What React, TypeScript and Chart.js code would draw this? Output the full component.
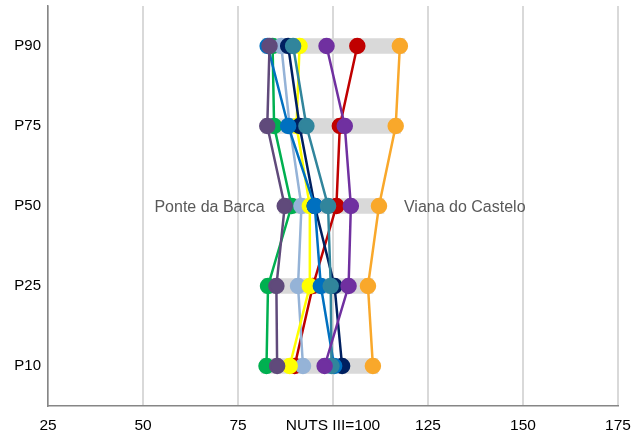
import React, { useEffect, useRef } from "react";
import { Chart, registerables } from "chart.js";

Chart.register(...registerables);

const categories = ["P90", "P75", "P50", "P25", "P10"];
const xTickValues = [25, 50, 75, 100, 125, 150, 175];
const xTickLabels = ["25", "50", "75", "NUTS III=100", "125", "150", "175"];

// grey range band per percentile (low / high)
const rangeLow = [81.5, 81.4, 85.9, 81.6, 81.2];
const rangeHigh = [118.9, 117.8, 113.4, 110.5, 111.8];

const vianaDoCastelo = [117.6, 116.5, 112.1, 109.2, 110.5];
const vilaNovaDeCerveira = [98.3, 103.1, 104.7, 104.1, 97.8];
const ponteDaBarca = [83.3, 82.7, 87.3, 85.1, 85.3];
const ponteDeLima = [89.5, 93.0, 98.7, 99.4, 99.6];
const paredesDeCoura = [82.8, 88.2, 95.2, 96.8, 100.3];
const caminha = [88.2, 91.2, 95.2, 100.4, 102.4];
const moncao = [91.2, 90.4, 93.9, 93.9, 88.6];
const melgaco = [86.4, 88.6, 91.7, 90.8, 92.1];
const valenca = [106.4, 101.8, 100.9, 94.7, 89.9];
const arcosDeValdevez = [84.1, 84.5, 89.1, 82.9, 82.5];

const seriesNames = [
  "Viana do Castelo",
  "Vila Nova de Cerveira",
  "Ponte da Barca",
  "Ponte de Lima",
  "Paredes de Coura",
  "Caminha",
  "Monção",
  "Melgaço",
  "Valença",
  "Arcos de Valdevez",
];
const seriesValues = [
  vianaDoCastelo,
  vilaNovaDeCerveira,
  ponteDaBarca,
  ponteDeLima,
  paredesDeCoura,
  caminha,
  moncao,
  melgaco,
  valenca,
  arcosDeValdevez,
];
const seriesColors = [
  "#F9A82B",
  "#7030A0",
  "#604A7B",
  "#31859C",
  "#0070C0",
  "#002060",
  "#FFFF00",
  "#95B3D7",
  "#C00000",
  "#00B050",
];

const FONT = "'Liberation Sans', Arial, sans-serif";

const labelPlugin = {
  id: "pointNameLabels",
  afterDatasetsDraw(chart: any) {
    const ctx = chart.ctx;
    ctx.save();
    ctx.font = `16px ${FONT}`;
    ctx.fillStyle = "#595959";
    ctx.textBaseline = "middle";
    chart.data.datasets.forEach((ds: any, i: number) => {
      if (ds.label !== "Ponte da Barca" && ds.label !== "Viana do Castelo") return;
      const meta = chart.getDatasetMeta(i);
      const pt = meta.data[2];
      if (!pt) return;
      if (ds.label === "Ponte da Barca") {
        ctx.textAlign = "right";
        ctx.fillText(ds.label, pt.x - 20, pt.y + 2);
      } else {
        ctx.textAlign = "left";
        ctx.fillText(ds.label, pt.x + 25, pt.y + 2);
      }
    });
    ctx.restore();
  },
};

export default function App() {
  const canvasRef = useRef<HTMLCanvasElement | null>(null);

  useEffect(() => {
    if (!canvasRef.current) return;
    const lineSets = seriesNames.map((name, i) => ({
      type: "line" as const,
      label: name,
      data: seriesValues[i],
      borderColor: seriesColors[i],
      backgroundColor: seriesColors[i],
      pointBackgroundColor: seriesColors[i],
      pointBorderColor: seriesColors[i],
      borderWidth: 2.5,
      pointRadius: 7,
      pointHoverRadius: 7,
      tension: 0,
      fill: false,
      order: 1,
    }));
    const chart = new Chart(canvasRef.current, {
      type: "bar",
      data: {
        labels: categories,
        datasets: [
          ...lineSets,
          {
            type: "bar" as const,
            label: "range",
            data: categories.map((_, i) => [rangeLow[i], rangeHigh[i]]),
            backgroundColor: "#D9D9D9",
            borderWidth: 0,
            barThickness: 15,
            order: 100,
          } as any,
        ],
      },
      options: {
        indexAxis: "y",
        animation: false,
        responsive: true,
        maintainAspectRatio: false,
        layout: { autoPadding: false, padding: { top: 6, right: 26, left: 0, bottom: 0 } },
        plugins: {
          legend: { display: false },
          tooltip: { enabled: false },
        },
        scales: {
          x: {
            type: "linear",
            min: 25,
            max: 175,
            afterBuildTicks(scale: any) {
              scale.ticks = xTickValues.map((v) => ({ value: v }));
            },
            afterFit(scale: any) {
              scale.height = 30;
              scale.paddingLeft = 0;
              scale.paddingRight = 0;
              scale.paddingTop = 0;
              scale.paddingBottom = 0;
            },
            ticks: {
              color: "#000",
              font: { family: FONT, size: 15.5 },
              padding: 10,
              maxRotation: 0,
              autoSkip: false,
              callback: (v: any) => {
                const idx = xTickValues.indexOf(Number(v));
                return idx >= 0 ? xTickLabels[idx] : "";
              },
            },
            grid: { color: "#D9D9D9", lineWidth: 2, drawTicks: false },
            border: { color: "#868686", width: 1.5 },
          },
          y: {
            type: "category",
            afterFit(scale: any) {
              scale.width = 48;
              scale.paddingTop = 0;
              scale.paddingBottom = 0;
              scale.paddingLeft = 0;
              scale.paddingRight = 0;
            },
            ticks: {
              color: "#000",
              font: { family: FONT, size: 15 },
              padding: 7,
            },
            grid: { display: false, drawTicks: false },
            border: { color: "#868686", width: 1.5 },
          },
        },
      } as any,
      plugins: [labelPlugin],
    });
    return () => chart.destroy();
  }, []);

  return (
    <div style={{ position: "fixed", left: 0, top: 0, width: 644, height: 436, background: "#fff" }}>
      <canvas ref={canvasRef} />
    </div>
  );
}
